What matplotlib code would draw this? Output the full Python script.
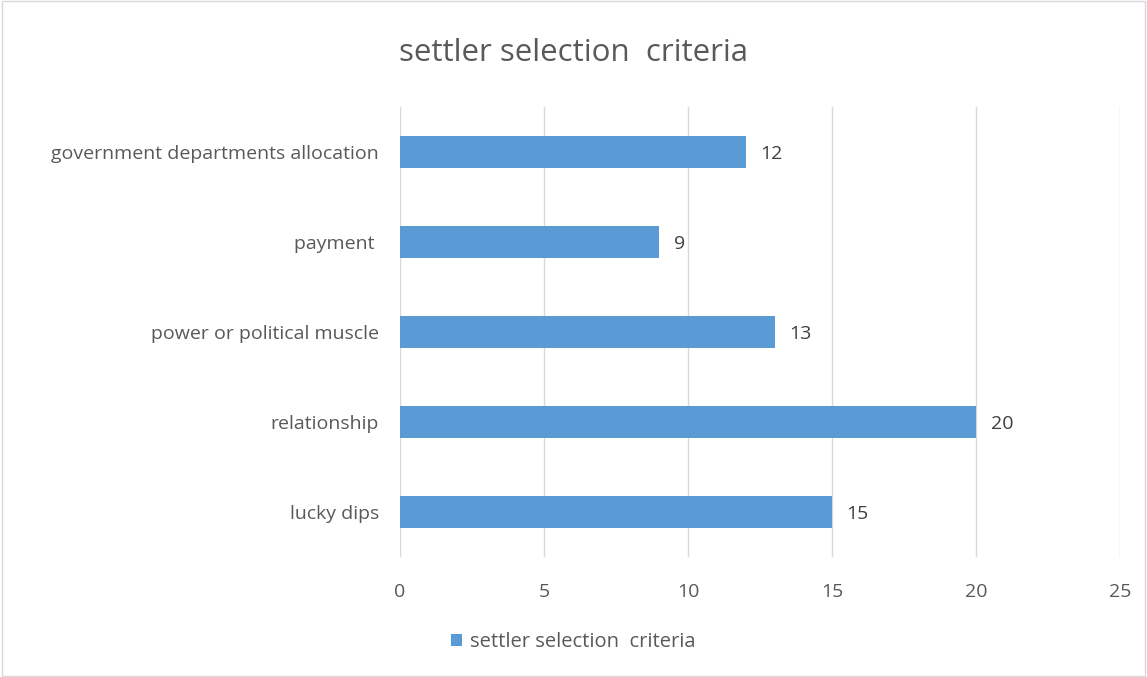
import matplotlib.pyplot as plt
from matplotlib.patches import Rectangle

categories = ["lucky dips", "relationship", "power or political muscle", "payment ",
              "government departments allocation"]
values = [15, 20, 13, 9, 12]
xticks = [0, 5, 10, 15, 20, 25]
series_name = "settler selection  criteria"

plt.rcParams['font.family'] = ['Open Sans', 'DejaVu Sans']
color = "#5B9BD5"
text_color = "#595959"

fig = plt.figure(figsize=(11.47, 6.77), dpi=100)
ax = fig.add_axes([0.3487, 0.1773, 0.628, 0.6646])

ypos = range(len(categories))
bars = ax.barh(ypos, values, height=0.355, color=color, label=series_name, zorder=3)
for y, v in zip(ypos, values):
    ax.text(v + 0.5, y, str(v), va="center_baseline", ha="left", fontsize=14, color="#404040")

ax.set_xlim(0, 25)
ax.set_ylim(-0.5, len(categories) - 0.5)
ax.set_xticks(xticks)
ax.set_yticks(list(ypos))
ax.set_yticklabels(categories)
ax.tick_params(axis="both", length=0, labelsize=14, colors=text_color)
ax.tick_params(axis="x", pad=19)
ax.tick_params(axis="y", pad=15)
for lab in ax.get_yticklabels():
    lab.set_verticalalignment("center_baseline")
ax.grid(axis="x", color="#D9D9D9", linewidth=1, zorder=0)
for s in ax.spines.values():
    s.set_visible(False)

fig.text(0.5, 0.922, "settler selection  criteria", ha="center", va="center",
         fontsize=22.5, color=text_color)

fig.legend(handles=[bars], labels=[series_name], loc="center", bbox_to_anchor=(0.5, 0.052),
           frameon=False, fontsize=14.5, handlelength=0.55, handleheight=0.55,
           handletextpad=0.4, labelcolor=text_color)

fig.patches.append(Rectangle((0.002, 0.002), 0.996, 0.996, transform=fig.transFigure,
                             fill=False, edgecolor="#D9D9D9", linewidth=1))

fig.savefig("out.png", dpi=100, facecolor="white")
